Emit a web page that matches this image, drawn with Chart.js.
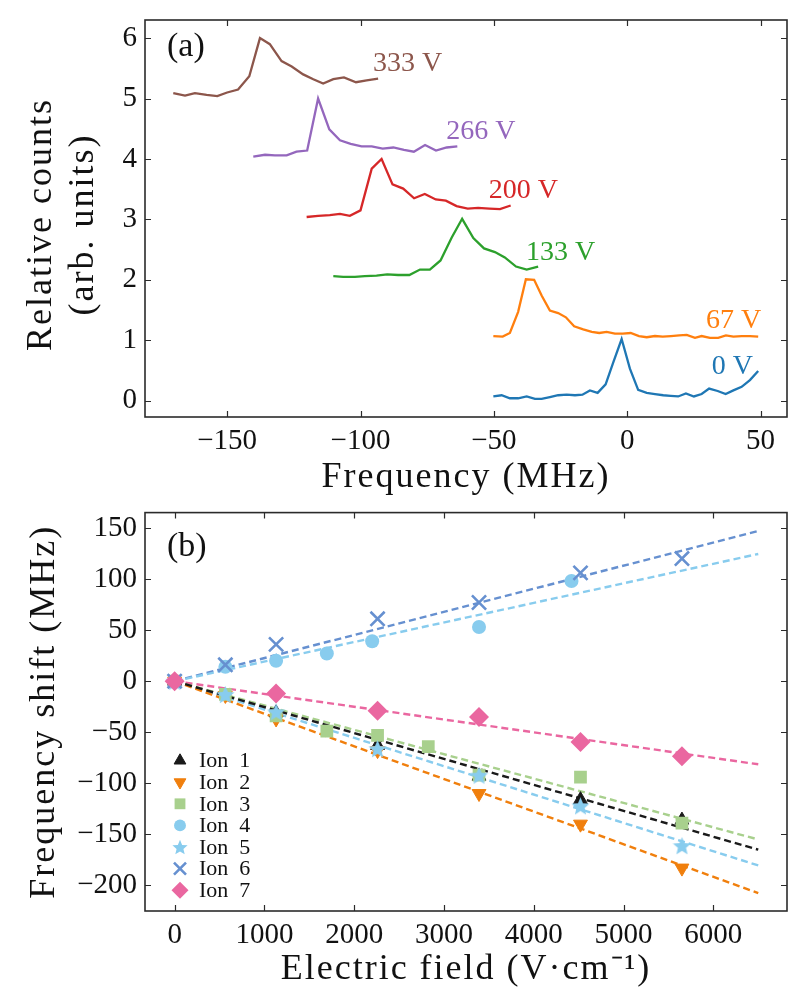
<!DOCTYPE html>
<html><head><meta charset="utf-8">
<script src="https://cdn.jsdelivr.net/npm/chart.js@4.4.1/dist/chart.umd.min.js"></script>
<style>
html,body{margin:0;padding:0;background:#fff;}
body{width:808px;height:1006px;position:relative;overflow:hidden;}
canvas{position:absolute;left:0;}
#ca{top:0;} #cb{top:500px;}
</style></head><body>
<canvas id="ca" width="808" height="500"></canvas>
<canvas id="cb" width="808" height="506"></canvas>
<script>
// ---------- Panel (a) data ----------
const freq0V = [-50.2,-47.1,-44,-40.9,-37.7,-34.6,-32.1,-29,-25.9,-22.7,-19.6,-16.8,-14,-11.1,-8.1,-5.2,-2.1,1,4.1,7.3,10.4,13.5,16.3,19.1,22,25,27.9,30.7,33.9,36.9,39.8,42.9,46,49.1];
const counts0V = [0.07,0.09,0.04,0.04,0.07,0.03,0.03,0.06,0.09,0.10,0.09,0.10,0.17,0.13,0.27,0.64,1.02,0.53,0.18,0.13,0.11,0.09,0.08,0.07,0.12,0.07,0.11,0.20,0.16,0.11,0.17,0.23,0.34,0.49];
const freq67V = [-50.2,-46.7,-44,-40.9,-38,-34.9,-32.1,-29,-25.9,-23,-19.9,-16.5,-13.3,-10.5,-7.7,-4.6,-1.7,1.3,4.4,7.3,10.4,13.3,16.4,19.5,22.3,25.4,27.9,31,34.1,37,39.8,42.9,46,49.1];
const counts67V = [1.07,1.06,1.12,1.47,2.01,2.0,1.74,1.49,1.45,1.38,1.23,1.18,1.14,1.12,1.14,1.11,1.11,1.12,1.07,1.05,1.07,1.06,1.07,1.08,1.09,1.04,1.07,1.04,1.04,1.08,1.06,1.07,1.07,1.06];
const freq133V = [-110.2,-106.5,-102.1,-98.4,-94,-90,-85.9,-81.7,-77.7,-74,-70,-65.8,-61.9,-57.7,-53.7,-49.6,-45.9,-41.7,-37.7,-33.4];
const counts133V = [2.06,2.05,2.05,2.06,2.07,2.09,2.08,2.08,2.17,2.17,2.32,2.70,3.01,2.69,2.52,2.46,2.37,2.22,2.17,2.22];
const freq200V = [-120.2,-115.9,-111.5,-107.7,-104,-100,-95.8,-92.1,-88,-84,-79.9,-75.9,-71.8,-68,-64,-59.8,-55.9,-51.7,-47.7,-43.7];
const counts200V = [3.04,3.06,3.07,3.09,3.06,3.15,3.84,4.0,3.58,3.51,3.35,3.42,3.33,3.31,3.22,3.18,3.19,3.18,3.17,3.23];
const freq266V = [-140.2,-135.8,-132.1,-127.7,-124,-120,-115.9,-111.7,-107.7,-103.7,-99.6,-95.8,-91.7,-87.7,-83.7,-80,-75.8,-71.7,-67.7,-63.7];
const counts266V = [4.04,4.07,4.06,4.06,4.12,4.14,5.0,4.49,4.31,4.25,4.21,4.21,4.17,4.19,4.15,4.12,4.23,4.14,4.19,4.21];
const freq333V = [-170.2,-165.8,-162.1,-157.7,-153.7,-150,-145.9,-141.7,-137.7,-134,-129.6,-125.8,-121.5,-117.7,-114,-110.2,-106.2,-101.7,-97.7,-93.4];
const counts333V = [5.09,5.05,5.09,5.06,5.04,5.10,5.15,5.37,6.0,5.90,5.62,5.53,5.40,5.32,5.25,5.32,5.35,5.27,5.30,5.33];
const voltageLabels = ['0 V','67 V','133 V','200 V','266 V','333 V'];
const labelFreq = [31.7,29.5,-38,-51.9,-67.9,-95.3];
const labelCounts = [0.56,1.33,2.45,3.47,4.45,5.57];
const freqTicks = [-150,-100,-50,0,50];
const countsTicks = [0,1,2,3,4,5,6];

// ---------- Panel (b) data ----------
const ionNames = ['Ion 1','Ion 2','Ion 3','Ion 4','Ion 5','Ion 6','Ion 7'];
const fieldIon1 = [0,1130,2260,3390,4520,5650];
const shiftIon1 = [0,-31,-63,-93,-116,-136];
const fieldIon2 = [0,565,1130,2260,3390,4520,5650];
const shiftIon2 = [0,-14,-37,-68,-110,-140,-183];
const fieldIon3 = [0,565,1130,1695,2260,2825,3390,4520,5650];
const shiftIon3 = [0,-13,-34,-49,-53,-64,-92,-94,-139];
const fieldIon4 = [0,565,1130,1695,2200,3390,4420];
const shiftIon4 = [0,14,20,27,39,53,98];
const fieldIon5 = [0,565,1130,2260,3390,4520,5650];
const shiftIon5 = [0,-13,-30,-66,-92,-122,-161];
const fieldIon6 = [0,565,1130,2260,3390,4520,5650];
const shiftIon6 = [0,16,36,61,77,106,120];
const fieldIon7 = [0,1130,2260,3390,4520,5650];
const shiftIon7 = [0,-12,-29,-35,-59.5,-73.5];
const fitField = [0,6500];
const fitEndShift = [-165,-207.5,-155,124.5,-180.4,147,-81.4];
const fieldTicks = [0,1000,2000,3000,4000,5000,6000];
const shiftTicks = [-200,-150,-100,-50,0,50,100,150];

// ---------- styles ----------
const FONT = "'Liberation Serif', 'Times New Roman', serif";
const AXIS = '#2b2b2b';
const TXT = '#111111';
const curveColors = ['#1f77b4','#ff7f0e','#2ca02c','#d62728','#9467bd','#8c564b'];
const ionColors = ['#1a1a1a','#f07f0d','#a8d08d','#88ccee','#88ccee','#6690d0','#ea67a0'];

function minusFmt(v){ return v < 0 ? '\u2212' + Math.abs(v) : String(v); }

function makeStar(size, color){
  const c = document.createElement('canvas'); c.width = size; c.height = size;
  const g = c.getContext('2d'); const R = size/2, r = R*0.45, cx = size/2, cy = size/2 + size*0.05;
  g.beginPath();
  for (let i=0;i<10;i++){ const a = -Math.PI/2 + i*Math.PI/5; const rr = i%2===0?R:r; g.lineTo(cx+rr*Math.cos(a), cy+rr*Math.sin(a)); }
  g.closePath(); g.fillStyle = color; g.fill(); return c;
}
const starImg = makeStar(19, '#88ccee');
const starImgLegend = makeStar(16, '#88ccee');

const markerDefs = [
  {style:'triangle', radius:8, rotation:0, bw:1},
  {style:'triangle', radius:8, rotation:180, bw:1},
  {style:'rect', radius:9, rotation:0, bw:0},
  {style:'circle', radius:7, rotation:0, bw:0},
  {style:starImg, radius:9, rotation:0, bw:0},
  {style:'crossRot', radius:10, rotation:0, bw:2.6},
  {style:'rectRot', radius:10, rotation:0, bw:0}
];

// inward ticks on four sides + frame + axis titles
function makeFrame(titles){
  return {
    id:'frameTicks',
    afterDraw(chart){
      const {ctx, chartArea:{left,right,top,bottom}, scales:{x,y}} = chart;
      const TL = 6;
      ctx.save();
      ctx.strokeStyle = AXIS; ctx.lineWidth = 1.2;
      ctx.beginPath();
      x.ticks.forEach(t=>{ const p = Math.round(x.getPixelForValue(t.value))+0.5;
        ctx.moveTo(p,bottom); ctx.lineTo(p,bottom-TL); ctx.moveTo(p,top); ctx.lineTo(p,top+TL); });
      y.ticks.forEach(t=>{ const p = Math.round(y.getPixelForValue(t.value))+0.5;
        ctx.moveTo(left,p); ctx.lineTo(left+TL,p); ctx.moveTo(right,p); ctx.lineTo(right-TL,p); });
      ctx.stroke();
      ctx.lineWidth = 1.6;
      ctx.strokeRect(left, top, right-left, bottom-top);
      ctx.fillStyle = TXT; ctx.textAlign = 'center'; ctx.textBaseline = 'middle';
      ctx.font = `36px ${FONT}`;
      try { ctx.letterSpacing = '2px'; } catch(e) {}
      ctx.fillText(titles.x, (left+right)/2, titles.xY);
      const cy = (top+bottom)/2 + (titles.yOff||0);
      titles.y.forEach((t,i)=>{
        ctx.save(); ctx.translate(titles.yX[i], cy); ctx.rotate(-Math.PI/2);
        ctx.fillText(t, 0, 0); ctx.restore();
      });
      ctx.restore();
    }
  };
}

function baseScales(o){
  return {
    x: { type:'linear', min:o.xmin, max:o.xmax,
      afterFit(s){ s.height = o.xh; s.paddingLeft = 0; s.paddingRight = 0; },
      afterBuildTicks(s){ s.ticks = o.xticks.map(v=>({value:v})); },
      grid:{display:false, drawTicks:false}, border:{display:false},
      ticks:{ autoSkip:false, padding:o.xpad, color:TXT, font:{family:FONT, size:o.tick}, callback:minusFmt, maxRotation:0 },
      title:{ display:false } },
    y: { type:'linear', min:o.ymin, max:o.ymax,
      afterFit(s){ s.width = 145; s.paddingTop = 0; s.paddingBottom = 0; },
      afterBuildTicks(s){ s.ticks = o.yticks.map(v=>({value:v})); },
      grid:{display:false, drawTicks:false}, border:{display:false},
      ticks:{ autoSkip:false, padding:8, color:TXT, font:{family:FONT, size:o.tick}, callback:minusFmt },
      title:{ display:false } }
  };
}

// ---------- Panel (a) ----------
const curvesA = [[freq0V,counts0V],[freq67V,counts67V],[freq133V,counts133V],[freq200V,counts200V],[freq266V,counts266V],[freq333V,counts333V]];
const labelsA = {
  id:'labelsA',
  afterDatasetsDraw(chart){
    const {ctx, scales:{x,y}, chartArea} = chart;
    ctx.save(); ctx.textBaseline='middle'; ctx.textAlign='left';
    ctx.font = `28px ${FONT}`;
    voltageLabels.forEach((t,i)=>{ ctx.fillStyle = curveColors[i]; ctx.fillText(t, x.getPixelForValue(labelFreq[i]), y.getPixelForValue(labelCounts[i])); });
    ctx.fillStyle=TXT; ctx.font = `34px ${FONT}`;
    ctx.fillText('(a)', chartArea.left+22, chartArea.top+27);
    ctx.restore();
  }
};
new Chart(document.getElementById('ca'), {
  type:'scatter',
  data:{ datasets: curvesA.map((c,i)=>({
    label: voltageLabels[i],
    data: c[0].map((f,k)=>({x:f, y:c[1][k]})),
    showLine:true, borderColor:curveColors[i], borderWidth:2.3, pointRadius:0, fill:false, tension:0
  })) },
  options:{
    responsive:false, animation:false, devicePixelRatio:1,
    layout:{ padding:{top:20,right:21,left:0,bottom:0} },
    plugins:{ legend:{display:false}, tooltip:{enabled:false} },
    scales: baseScales({xmin:-180.8,xmax:59.9,ymin:-0.27,ymax:6.3,xticks:freqTicks,yticks:countsTicks,
      xh:83, xpad:7, tick:29})
  },
  plugins:[makeFrame({x:'Frequency (MHz)', xY:478, y:['Relative counts','(arb. units)'], yX:[42,84], yOff:6}), labelsA]
});

// ---------- Panel (b) ----------
const ionFields = [fieldIon1,fieldIon2,fieldIon3,fieldIon4,fieldIon5,fieldIon6,fieldIon7];
const ionShifts = [shiftIon1,shiftIon2,shiftIon3,shiftIon4,shiftIon5,shiftIon6,shiftIon7];
const dsB = [];
ionNames.forEach((n,i)=>{
  dsB.push({ label:n+' fit', data: fitField.map((f,k)=>({x:f, y: k===0?0:fitEndShift[i]})),
    showLine:true, borderColor:ionColors[i], borderWidth:2.4, borderDash:[7,4], pointRadius:0, order:2 });
});
ionNames.forEach((n,i)=>{
  const m = markerDefs[i];
  dsB.push({ label:n, data: ionFields[i].map((f,k)=>({x:f, y:ionShifts[i][k]})),
    showLine:false, pointStyle:m.style, pointRadius:m.radius, pointRotation:m.rotation,
    backgroundColor:ionColors[i], borderColor:ionColors[i], pointBorderWidth:m.bw, order: 1 + (6-i)*0.01 });
});
function drawMarker(ctx, i, x, y){
  const m = markerDefs[i];
  const style = i===4 ? starImgLegend : m.style;
  ctx.fillStyle = ionColors[i]; ctx.strokeStyle = ionColors[i]; ctx.lineWidth = m.bw;
  if (Chart.helpers && Chart.helpers.drawPoint) {
    Chart.helpers.drawPoint(ctx, {pointStyle:style, radius:m.radius*0.85, rotation:m.rotation, borderWidth:m.bw}, x, y);
  }
}
const labelsB = {
  id:'labelsB',
  afterDraw(chart){
    const {ctx, chartArea} = chart;
    ctx.save();
    ctx.fillStyle=TXT; ctx.textBaseline='middle'; ctx.textAlign='left';
    ctx.font = `34px ${FONT}`;
    ctx.fillText('(b)', chartArea.left+22, chartArea.top+34);
    ctx.font = `22px ${FONT}`;
    ionNames.forEach((n,i)=>{
      const yy = chartArea.top + 248 + i*21.6;
      drawMarker(ctx, i, chartArea.left+35, yy);
      ctx.fillStyle=TXT;
      ctx.fillText(n.replace(' ','\u2002'), chartArea.left+54, yy+1);
    });
    ctx.restore();
  }
};
new Chart(document.getElementById('cb'), {
  type:'scatter',
  data:{ datasets: dsB },
  options:{
    responsive:false, animation:false, devicePixelRatio:1,
    layout:{ padding:{top:12,right:21,left:0,bottom:0} },
    plugins:{ legend:{display:false}, tooltip:{enabled:false} },
    scales: baseScales({xmin:-330,xmax:6820,ymin:-225,ymax:165,xticks:fieldTicks,yticks:shiftTicks,
      xh:95, xpad:7, tick:29})
  },
  plugins:[makeFrame({x:'Electric field (V\u00b7cm\u207b\u00b9)', xY:470, y:['Frequency shift (MHz)'], yX:[45], yOff:0}), labelsB]
});
</script>
</body></html>
